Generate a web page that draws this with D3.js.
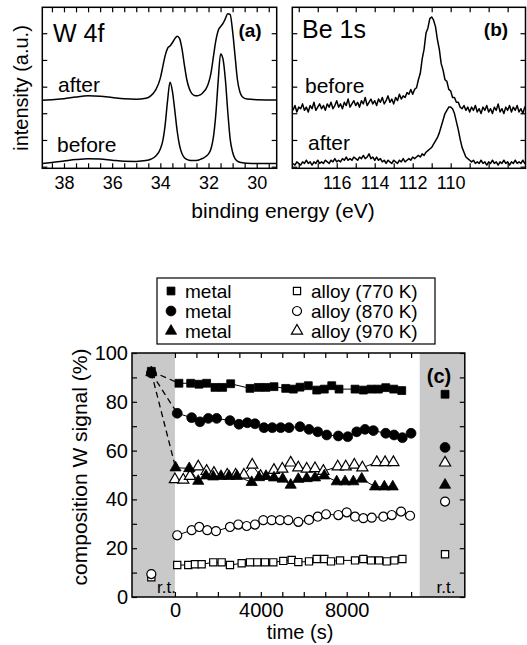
<!DOCTYPE html>
<html><head><meta charset="utf-8">
<script src="https://cdn.jsdelivr.net/npm/d3@7"></script>
<style>
body{margin:0;background:#fff}
svg{display:block}
text{font-family:"Liberation Sans",Arial,Helvetica,sans-serif;fill:#000}
</style>
</head><body>
<svg id="chart" width="527" height="645"></svg>
<script>
// ---------------- DATA ----------------
// Panel (a) W 4f spectra
const wEnergy = [38.9,38.5,38.0,37.5,37.0,36.5,36.0,35.5,35.0,34.6,34.4,34.2,34.0,33.9,33.8,33.7,33.6,33.5,33.4,33.3,33.2,33.1,33.0,32.9,32.8,32.7,32.6,32.5,32.4,32.3,32.2,32.1,32.0,31.9,31.8,31.7,31.6,31.5,31.4,31.3,31.2,31.1,31.0,30.9,30.8,30.7,30.6,30.4,30.0,29.6,29.2];
const wBefore = [3.0,3.6,4.5,5.4,5.9,5.7,5.0,4.4,4.3,4.8,5.6,7.5,12,17,27,42,53.5,48,36,23,14,9,6.5,5.5,5.0,4.8,4.8,4.9,5.2,5.8,6.5,7.5,9,12,19,33,54,71,68,55,35,18,10,6,4.5,3.8,3.5,3.2,3.0,3.0,3.0];
const wAfter  = [42.2,42.6,43.2,44.3,45.0,44.8,44.0,43.2,42.9,43.5,45.0,48.5,56,63,70,74.5,76,78,80.5,82,80.5,74,64,55,49.5,46.5,45.3,45.0,45.3,46.0,47.5,49.5,53,59,69,79,85.5,88,90,93,96,95.5,85,70,55,47.5,44.5,43,42.6,42.5,42.5];

// Panel (b) Be 1s spectra
const beEnergy = [118.3,118.2,118.1,118.0,117.9,117.8,117.7,117.6,117.5,117.4,117.3,117.2,117.1,117.0,116.9,116.8,116.7,116.6,116.5,116.4,116.3,116.2,116.1,116.0,115.9,115.8,115.7,115.6,115.5,115.4,115.3,115.2,115.1,115.0,114.9,114.8,114.7,114.6,114.5,114.4,114.3,114.2,114.1,114.0,113.9,113.8,113.7,113.6,113.5,113.4,113.3,113.2,113.1,113.0,112.9,112.8,112.7,112.6,112.5,112.4,112.3,112.2,112.1,112.0,111.9,111.8,111.7,111.6,111.5,111.4,111.3,111.2,111.1,111.0,110.9,110.8,110.7,110.6,110.5,110.4,110.3,110.2,110.1,110.0,109.9,109.8,109.7,109.6,109.5,109.4,109.3,109.2,109.1,109.0,108.9,108.8,108.7,108.6,108.5,108.4,108.3,108.2,108.1,108.0,107.9,107.8,107.7,107.6,107.5,107.4,107.3,107.2,107.1,107.0,106.9,106.8,106.7,106.6,106.5,106.4,106.3,106.2,106.1,106.0];
const beBefore = [36,39,35,38,37,40,36,38,35,39,37,41,36,38,40,37,39,36,40,38,41,37,39,42,38,40,37,41,39,43,38,40,42,39,41,38,42,40,44,39,41,43,40,42,39,43,41,44,40,42,45,41,43,40,44,42,46,43,45,44,47,46,49,
  46,49,50,55,59,68,74,84,87,93,94,92,88,80,74,65,61,55,54,49,48,44,44,41,41,38,
  37,39,36,38,35,38,36,39,35,37,34,38,36,39,35,37,34,38,36,40,35,37,34,38,36,39,35,38,36,39,35,37,34,38,36];
const beAfter = [3,2,4,3,2,4,3,5,3,4,2,4,3,5,3,4,3,5,4,3,5,4,6,4,5,4,6,5,7,5,6,5,7,6,5,7,6,8,6,7,9,6,7,5,7,5,6,4,5,3,5,4,3,5,4,3,5,4,6,4,5,6,5,
  7,6,7,8,7,9,8,10,11,12,13,15,17,19,22,26,30,34,36,38,38,37,34,29,24,18,
  13,10,7,6,5,4,5,3,4,3,5,3,4,2,4,3,5,3,4,2,4,3,5,3,4,2,4,3,5,3,4,3,5,3,4];

const intensityTicks = [1, 17.6, 34.2, 50.7, 67.3, 83.9];
const wTickLabels = [38, 36, 34, 32, 30];
const beTickLabels = [116, 114, 112, 110];

// Panel (c) composition vs time
const metal770T = [186,732,1118,1477,1864,2223,2596,3495,3882,4241,4613,5158,5513,5825,6212,6603,6957,7302,7642,8388,8775,9133,9473,9819,10191,10564];
const metal770V = [87.6,87.6,87.2,87.6,85.9,85.9,87.4,85.5,85.9,85.9,86.2,85.5,85.2,86.0,86.6,84.8,85.2,86.6,85.2,85.2,84.8,85.2,85.2,85.8,85.2,84.6];
const metal870T = [107,778,1165,1552,1943,2563,2982,3369,3728,4147,4534,4926,5312,5825,6244,6650,7069,7610,8048,8467,8854,9240,9818,10205,10592,10997];
const metal870V = [75.3,73.5,71.8,73.2,73.2,72.3,70.8,71.4,71.0,69.4,69.4,69.4,69.4,69.8,68.7,67.7,66.4,66.0,65.7,67.7,68.7,68.2,67.1,66.4,65.3,67.1];
const metal970T = [30,666,1086,1445,1785,2145,2516,2889,3574,3914,4240,4613,5019,5391,5746,6137,6524,6957,7535,7922,8309,8700,9320,9753,10144];
const metal970V = [53.0,52.7,47.5,49.7,49.3,49.5,49.5,49.5,47.0,49.0,49.5,48.9,48.4,45.9,48.3,48.6,48.9,49.7,47.3,47.3,47.3,48.4,45.2,45.2,45.2];
const alloy770T = [107,620,932,1244,1785,2176,2563,3108,3495,3835,4194,4581,5047,5438,5746,6244,6603,6957,7269,7689,8388,8775,9133,9506,9865,10219,10592];
const alloy770V = [13.1,13.1,13.4,13.4,14.2,14.2,13.1,13.8,14.2,14.2,14.2,14.2,14.8,15.2,14.3,14.6,15.6,15.6,14.6,15.0,15.0,15.6,15.0,15.0,14.6,15.0,15.6];
const alloy870T = [107,778,1132,1505,1911,2563,2950,3341,3728,4115,4506,4893,5280,5746,6244,6650,7036,7610,8001,8388,8775,9166,9707,10098,10531,10951];
const alloy870V = [25.3,27.4,28.7,27.4,27.0,28.7,29.7,29.1,29.7,31.5,31.5,31.5,31.5,30.8,31.6,32.9,33.9,33.6,34.7,32.9,32.3,32.5,32.9,33.6,35.0,33.3];
const alloy970T = [0,388,700,1086,1475,1815,2435,2826,3213,3600,3990,4610,5000,5390,5746,6137,6524,6911,7582,7955,8356,8729,9400,9786,10173];
const alloy970V = [48.2,48.0,49.5,53.4,51.6,50.8,50.0,50.0,50.0,54.1,49.5,52.0,52.5,55.0,53.0,52.5,52.7,51.6,53.4,53.4,54.1,53.0,55.2,55.2,55.2];

// room-temperature reference points (before, after)
const rtBeforeTime = -1100;
const rtAfterTime = 12580;
const metalRtBefore = [92.5, 91.8, 92.0];     // metal 770, 870, 970
const alloyRtBefore = [8.1, 9.4];             // alloy 770, 870
const rtAfter = [83.1, 61.3, 45.9, 17.5, 39.1, 55.0]; // metal770, metal870, metal970, alloy770, alloy870, alloy970

const timeTicks = [0,1000,2000,3000,4000,5000,6000,7000,8000,9000,10000,11000];
const timeLabels = [0, 4000, 8000];
const compTicks = [0,10,20,30,40,50,60,70,80,90,100];
const compLabels = [0,20,40,60,80,100];

const legendLabels = ["metal","metal","metal","alloy (770 K)","alloy (870 K)","alloy (970 K)"];

// ---------------- DRAW ----------------
const svg = d3.select("#chart");
svg.append("rect").attr("width",527).attr("height",645).attr("fill","#fff");

function styleAxis(g){
  g.select(".domain").remove();
  g.selectAll(".tick line").attr("stroke","#000").attr("stroke-width",1.2);
  g.selectAll(".tick text").attr("font-family",null).attr("fill","#000");
}

// ---- spectra panels ----
const specTop = 7.3, specBottom = 168.3;
const yI = d3.scaleLinear().domain([0,100]).range([specBottom, specTop]);

function spectrumPanel(x0, x1, dom, minorStep, labels, energy, series, title, tag, names, namePos){
  const xs = d3.scaleLinear().domain(dom).range([x0, x1]);
  const g = svg.append("g");
  const lo = Math.min(dom[0],dom[1]), hi = Math.max(dom[0],dom[1]);
  const minor = d3.range(Math.ceil(lo/minorStep)*minorStep, hi, minorStep);
  g.append("g").attr("transform",`translate(0,${specBottom})`)
    .call(d3.axisBottom(xs).tickValues(minor).tickSize(-5).tickFormat(""))
    .call(styleAxis);
  g.append("g").attr("transform",`translate(0,${specTop})`)
    .call(d3.axisTop(xs).tickValues(minor).tickSize(-5).tickFormat(""))
    .call(styleAxis);
  const lab = g.append("g").attr("transform",`translate(0,${specBottom})`)
    .call(d3.axisBottom(xs).tickValues(labels).tickSize(0).tickPadding(8).tickFormat(d3.format("d")))
    .call(styleAxis);
  lab.selectAll(".tick text").attr("font-size",18).attr("dy","0.72em");
  g.append("g").attr("transform",`translate(${x0},0)`)
    .call(d3.axisLeft(yI).tickValues(intensityTicks).tickSize(-5).tickFormat(""))
    .call(styleAxis);
  g.append("g").attr("transform",`translate(${x1},0)`)
    .call(d3.axisRight(yI).tickValues(intensityTicks).tickSize(-5).tickFormat(""))
    .call(styleAxis);
  const clipId = "clip"+tag;
  svg.append("clipPath").attr("id",clipId).append("rect")
    .attr("x",x0).attr("y",specTop).attr("width",x1-x0).attr("height",specBottom-specTop);
  series.forEach(vals => {
    const pts = energy.map((e,i)=>[e, vals[i]]);
    g.append("path").datum(pts)
      .attr("clip-path",`url(#${clipId})`)
      .attr("fill","none").attr("stroke","#000").attr("stroke-width",1.5)
      .attr("stroke-linejoin","round")
      .attr("d", d3.line().x(d=>xs(d[0])).y(d=>yI(d[1])).curve(tag==="a"?d3.curveMonotoneX:d3.curveLinear));
  });
  g.append("rect").attr("x",x0).attr("y",specTop).attr("width",x1-x0).attr("height",specBottom-specTop)
    .attr("fill","none").attr("stroke","#000").attr("stroke-width",1.5);
  g.append("text").attr("x",title.x).attr("y",title.y).attr("font-size",25).text(title.t);
  g.append("text").attr("x",title.tx).attr("y",title.ty).attr("font-size",19).attr("font-weight","bold")
    .attr("text-anchor","middle").text("("+tag+")");
  names.forEach((n,i)=>{
    g.append("text").attr("x",namePos[i][0]).attr("y",namePos[i][1]).attr("font-size",21).text(n);
  });
}

spectrumPanel(42.3, 276.7, [38.9, 29.17], 0.5, wTickLabels, wEnergy, [wBefore, wAfter],
  {t:"W 4f", x:53, y:42, tx:250, ty:37}, "a", ["after","before"], [[58,92],[57,151.5]]);
spectrumPanel(292.3, 525.5, [118.34, 106.06], 1, beTickLabels, beEnergy, [beBefore, beAfter],
  {t:"Be 1s", x:302, y:37.5, tx:496, ty:36}, "b", ["before","after"], [[305,93],[308,150]]);

svg.append("text").attr("transform","translate(28,88) rotate(-90)")
  .attr("text-anchor","middle").attr("font-size",20).text("intensity (a.u.)");
svg.append("text").attr("x",283).attr("y",218).attr("text-anchor","middle")
  .attr("font-size",21).text("binding energy (eV)");

// ---- composition panel ----
const cL = 132, cR = 464.8, cT = 353, cB = 597;
const xT = d3.scaleLinear().domain([-2000, 13500]).range([cL, cR]);
const yC = d3.scaleLinear().domain([0, 100]).range([cB, cT]);
const gc = svg.append("g");

// grey room-temperature regions
gc.append("rect").attr("x",xT(-2000)).attr("y",cT).attr("width",xT(0)-xT(-2000)).attr("height",cB-cT).attr("fill","#c9c9c9");
gc.append("rect").attr("x",xT(11400)).attr("y",cT).attr("width",xT(13500)-xT(11400)).attr("height",cB-cT).attr("fill","#c9c9c9");

gc.append("g").attr("transform",`translate(0,${cB})`)
  .call(d3.axisBottom(xT).tickValues(timeTicks).tickSize(-5).tickFormat(""))
  .call(styleAxis);
gc.append("g").attr("transform",`translate(0,${cT})`)
  .call(d3.axisTop(xT).tickValues(timeTicks).tickSize(-5).tickFormat(""))
  .call(styleAxis);
const xl = gc.append("g").attr("transform",`translate(0,${cB})`)
  .call(d3.axisBottom(xT).tickValues(timeLabels).tickSize(0).tickPadding(6).tickFormat(d3.format("d")))
  .call(styleAxis);
xl.selectAll(".tick text").attr("font-size",20).attr("dy","0.72em");
gc.append("g").attr("transform",`translate(${cL},0)`)
  .call(d3.axisLeft(yC).tickValues(compTicks).tickSize(-5).tickFormat(""))
  .call(styleAxis);
gc.append("g").attr("transform",`translate(${cR},0)`)
  .call(d3.axisRight(yC).tickValues(compTicks).tickSize(-5).tickFormat(""))
  .call(styleAxis);
const yl = gc.append("g").attr("transform",`translate(${cL},0)`)
  .call(d3.axisLeft(yC).tickValues(compLabels).tickSize(0).tickPadding(4).tickFormat(d3.format("d")))
  .call(styleAxis);
yl.selectAll(".tick text").attr("font-size",20);

const series = [
  {t:metal770T, v:metal770V, shape:d3.symbolSquare,   size:62, filled:true},
  {t:metal870T, v:metal870V, shape:d3.symbolCircle,   size:76, filled:true},
  {t:metal970T, v:metal970V, shape:d3.symbolTriangle, size:54, filled:true},
  {t:alloy770T, v:alloy770V, shape:d3.symbolSquare,   size:52, filled:false},
  {t:alloy870T, v:alloy870V, shape:d3.symbolCircle,   size:64, filled:false},
  {t:alloy970T, v:alloy970V, shape:d3.symbolTriangle, size:54, filled:false}
];

const lineGen = d3.line().x(d=>xT(d[0])).y(d=>yC(d[1]));

// dashed lines from room-temperature metal points
[0,1,2].forEach(i=>{
  const s = series[i];
  gc.append("path").datum([[rtBeforeTime, metalRtBefore[i]],[s.t[0], s.v[0]]])
    .attr("fill","none").attr("stroke","#000").attr("stroke-width",1.3)
    .attr("stroke-dasharray","6,4").attr("d", lineGen);
});

// connecting lines
const drawOrder = [3,4,5,2,1,0];
drawOrder.forEach(i=>{
  const s = series[i];
  gc.append("path").datum(s.t.map((t,j)=>[t, s.v[j]]))
    .attr("fill","none").attr("stroke","#000").attr("stroke-width",1).attr("d", lineGen);
});
// markers
function marker(g, s, x, y){
  g.append("path").attr("d", d3.symbol().type(s.shape).size(s.size)())
    .attr("transform",`translate(${x},${y})`)
    .attr("fill", s.filled ? "#000" : "#fff")
    .attr("stroke","#000").attr("stroke-width", s.filled ? 0.8 : 1.2);
}
drawOrder.forEach(i=>{
  const s = series[i];
  s.t.forEach((t,j)=> marker(gc, s, xT(t), yC(s.v[j])));
});
// r.t. markers before
alloyRtBefore.forEach((v,i)=> marker(gc, series[3+i], xT(rtBeforeTime), yC(v)));
[2,1,0].forEach(i=> marker(gc, series[i], xT(rtBeforeTime), yC(metalRtBefore[i])));
// r.t. markers after
rtAfter.forEach((v,i)=> marker(gc, series[i], xT(rtAfterTime), yC(v)));

gc.append("rect").attr("x",cL).attr("y",cT).attr("width",cR-cL).attr("height",cB-cT)
  .attr("fill","none").attr("stroke","#000").attr("stroke-width",1.5);

gc.append("text").attr("x",xT(-2000)+25).attr("y",593).attr("font-size",17).text("r.t.");
gc.append("text").attr("x",xT(rtAfterTime)+1).attr("y",593).attr("text-anchor","middle").attr("font-size",17).text("r.t.");
gc.append("text").attr("x",xT(rtAfterTime)-6).attr("y",383).attr("text-anchor","middle")
  .attr("font-size",20).attr("font-weight","bold").text("(c)");

svg.append("text").attr("transform","translate(87,467) rotate(-90)")
  .attr("text-anchor","middle").attr("font-size",21).text("composition W signal (%)");
svg.append("text").attr("x",300).attr("y",639).attr("text-anchor","middle")
  .attr("font-size",20).text("time (s)");

// legend
const lg = svg.append("g");
lg.append("rect").attr("x",157).attr("y",278).attr("width",278).attr("height",66)
  .attr("fill","#fff").attr("stroke","#000").attr("stroke-width",1.2);
const rowY = [291, 311, 331];
series.forEach((s,i)=>{
  const col = i < 3 ? 0 : 1;
  const row = i % 3;
  const mx = col===0 ? 171 : 297;
  marker(lg, s, mx, rowY[row]);
  lg.append("text").attr("x", mx+14).attr("y", rowY[row]).attr("dy","0.35em")
    .attr("font-size",19).text(legendLabels[i]);
});
</script>
</body></html>
